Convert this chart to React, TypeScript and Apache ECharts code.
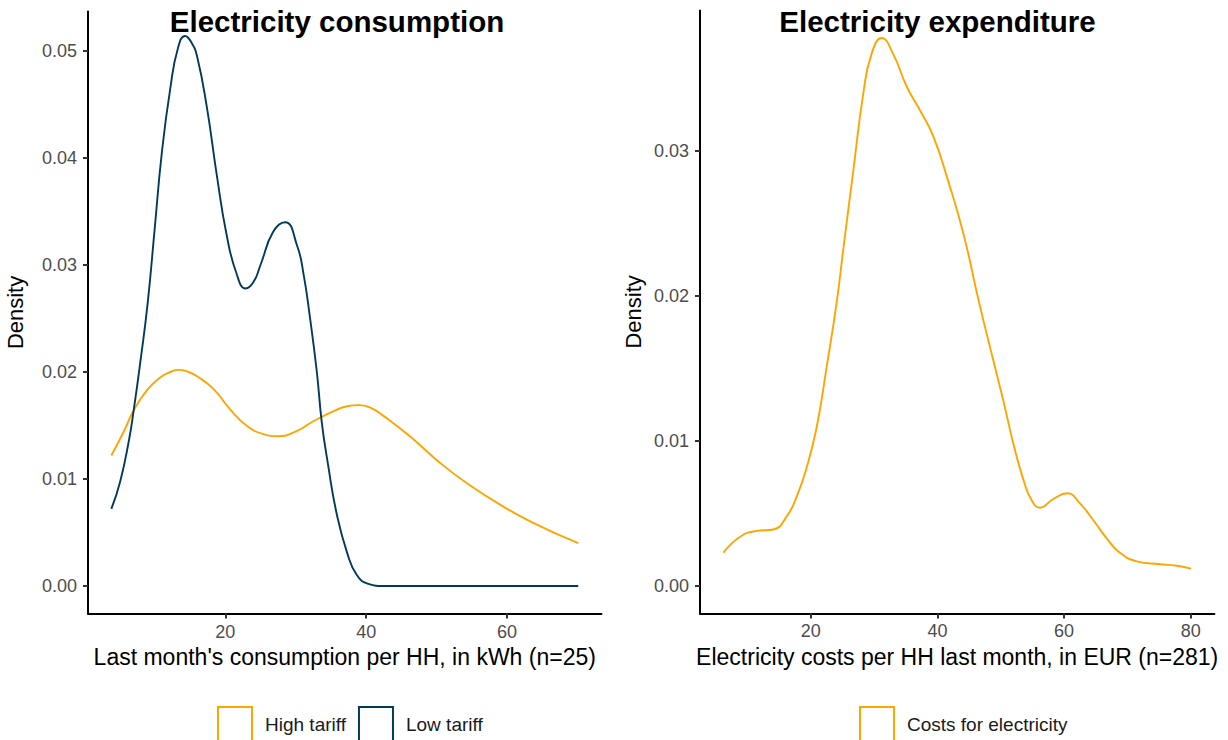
import React, { useEffect, useRef } from "react";
import * as echarts from "echarts";

// Left panel: kWh consumption densities by tariff
const highTariffKwh = [3.83, 5.5, 7.0, 8.9, 10.8, 12.2, 13.4, 14.8, 16.0, 18.35, 20.7, 23.1, 25.4, 27.5, 30.2, 32.5, 35.4, 37.3, 39.0, 40.8, 42.45, 46.2, 50.5, 54.3, 59.0, 63.7, 70.1];
const highTariffDensity = [0.0122, 0.0143, 0.0164, 0.0183, 0.0195, 0.0200, 0.0202, 0.0200, 0.0196, 0.0184, 0.0165, 0.01495, 0.0142, 0.014, 0.0145, 0.0154, 0.01635, 0.0168, 0.0169, 0.0166, 0.0159, 0.014, 0.0115, 0.0096, 0.0076, 0.0059, 0.004];

const lowTariffKwh = [3.83, 5.1, 6.3, 7.0, 8.0, 9.0, 10.0, 11.0, 12.2, 13.3, 14.3, 15.2, 16.0, 17.4, 18.8, 20.2, 21.6, 22.9, 24.0, 25.0, 26.8, 28.5, 30.2, 31.1, 32.0, 33.0, 33.7, 34.6, 35.8, 37.3, 38.7, 40.3, 42.5, 45, 50, 55, 60, 65, 70.1];
const lowTariffDensity = [0.0072, 0.0098, 0.0135, 0.0164, 0.0212, 0.0265, 0.0335, 0.0405, 0.0465, 0.0503, 0.0514, 0.0508, 0.0495, 0.0447, 0.0384, 0.0328, 0.0292, 0.0278, 0.0284, 0.03, 0.0331, 0.034, 0.0318, 0.0292, 0.0252, 0.02, 0.0153, 0.0113, 0.0068, 0.0031, 0.001, 0.0002, 0, 0, 0, 0, 0, 0, 0];

// Right panel: monthly electricity costs density
const costEur = [6.2, 8.84, 11.47, 14.1, 16.2, 17.8, 19.37, 20.95, 22.5, 24.1, 25.15, 26.7, 28.3, 29.6, 31.2, 33.0, 35.2, 37.26, 39.36, 41.5, 44.1, 46.5, 48.8, 50.4, 52.0, 53.6, 54.9, 56.2, 58.3, 60.5, 62.5, 64.6, 66.7, 68.8, 71.5, 75.15, 77.8, 80.05];
const costDensity = [0.0023, 0.0034, 0.0038, 0.0039, 0.0048, 0.0062, 0.0082, 0.011, 0.0151, 0.0196, 0.0233, 0.0286, 0.034, 0.0367, 0.0378, 0.0367, 0.0344, 0.0328, 0.031, 0.0282, 0.0243, 0.0197, 0.0156, 0.0128, 0.0098, 0.0073, 0.0059, 0.0054, 0.006, 0.0064, 0.0057, 0.00455, 0.0033, 0.0023, 0.0017, 0.0015, 0.0014, 0.0012];

const kwhTicks = [20, 40, 60];
const kwhDensityTicks = [0, 0.01, 0.02, 0.03, 0.04, 0.05];
const eurTicks = [20, 40, 60, 80];
const eurDensityTicks = [0, 0.01, 0.02, 0.03];

const ORANGE = "#FFA500";
const NAVY = "#003B5C";
const FONT = "'Liberation Sans', Arial, Helvetica, sans-serif";

const zip = (xs: number[], ys: number[]) => xs.map((x, i) => [x, ys[i]]);

const xAxisBase = (min: number, max: number, ticks: number[], name: string, gridIndex: number) => ({
  type: "value",
  gridIndex,
  min,
  max,
  name,
  nameLocation: "middle",
  nameGap: 32,
  nameTextStyle: { color: "#000", fontSize: 23, fontFamily: FONT },
  splitLine: { show: false },
  axisLine: { show: true, onZero: false, lineStyle: { color: "#000", width: 2 } },
  axisTick: { show: true, length: 5, customValues: ticks, lineStyle: { color: "#333", width: 2 } },
  axisLabel: {
    customValues: ticks,
    margin: 9,
    color: "#4D4D4D",
    fontSize: 18,
    fontFamily: FONT,
  },
});

const yAxisBase = (min: number, max: number, ticks: number[], gridIndex: number, nameGap: number) => ({
  type: "value",
  gridIndex,
  min,
  max,
  name: "Density",
  nameLocation: "middle",
  nameGap,
  nameRotate: 90,
  nameTextStyle: { color: "#000", fontSize: 22, fontFamily: FONT },
  splitLine: { show: false },
  axisLine: { show: true, onZero: false, lineStyle: { color: "#000", width: 2 } },
  axisTick: { show: true, length: 5, customValues: ticks, lineStyle: { color: "#333", width: 2 } },
  axisLabel: {
    customValues: ticks,
    margin: 11,
    color: "#4D4D4D",
    fontSize: 18,
    fontFamily: FONT,
    formatter: (v: number) => v.toFixed(2),
  },
});

const legendItem = (name: string, color: string) => ({
  name,
  itemStyle: { color: "#fff", borderColor: color, borderWidth: 2 },
});

const lineSeries = (name: string, data: number[][], color: string, axisIndex: number) => ({
  type: "line",
  name,
  xAxisIndex: axisIndex,
  yAxisIndex: axisIndex,
  data,
  smooth: 0.5,
  showSymbol: false,
  symbol: "none",
  lineStyle: { color, width: 1.9 },
  itemStyle: { color },
});

export default function App() {
  const ref = useRef<HTMLDivElement>(null);

  useEffect(() => {
    if (!ref.current) return;
    const chart = echarts.init(ref.current, undefined, { renderer: "svg" });
    chart.setOption({
      animation: false,
      backgroundColor: "#fff",
      grid: [
        { left: 88, top: 11.4, width: 513.5, height: 602.1 },
        { left: 700, top: 10.4, width: 514.4, height: 603 },
      ],
      xAxis: [
        xAxisBase(0.52, 73.4, kwhTicks, "Last month's consumption per HH, in kWh (n=25)", 0),
        xAxisBase(2.5, 83.74, eurTicks, "Electricity costs per HH last month, in EUR (n=281)", 1),
      ],
      yAxis: [
        yAxisBase(-0.00257, 0.0537, kwhDensityTicks, 0, 62),
        yAxisBase(-0.00189, 0.0397, eurDensityTicks, 1, 56),
      ],
      legend: [
        {
          left: 217,
          top: 706,
          padding: 0,
          itemWidth: 34,
          itemHeight: 34,
          itemGap: 12,
          icon: "rect",
          textStyle: { fontSize: 19, color: "#1A1A1A", fontFamily: FONT, padding: [0, 0, 0, 8] },
          data: [legendItem("High tariff", ORANGE), legendItem("Low tariff", NAVY)],
        },
        {
          left: 859,
          top: 706,
          padding: 0,
          itemWidth: 34,
          itemHeight: 34,
          icon: "rect",
          textStyle: { fontSize: 19, color: "#1A1A1A", fontFamily: FONT, padding: [0, 0, 0, 8] },
          data: [legendItem("Costs for electricity", ORANGE)],
        },
      ],
      graphic: [
        {
          type: "text",
          x: 337,
          y: 21,
          style: {
            text: "Electricity consumption",
            align: "center",
            verticalAlign: "middle",
            fill: "#000",
            font: `bold 29.5px ${FONT}`,
          },
        },
        {
          type: "text",
          x: 937.5,
          y: 21,
          style: {
            text: "Electricity expenditure",
            align: "center",
            verticalAlign: "middle",
            fill: "#000",
            font: `bold 29.5px ${FONT}`,
          },
        },
      ],
      series: [
        lineSeries("High tariff", zip(highTariffKwh, highTariffDensity), ORANGE, 0),
        lineSeries("Low tariff", zip(lowTariffKwh, lowTariffDensity), NAVY, 0),
        lineSeries("Costs for electricity", zip(costEur, costDensity), ORANGE, 1),
      ],
    });
    return () => chart.dispose();
  }, []);

  return <div ref={ref} style={{ width: 1228, height: 740, position: "absolute", left: 0, top: 0 }} />;
}
